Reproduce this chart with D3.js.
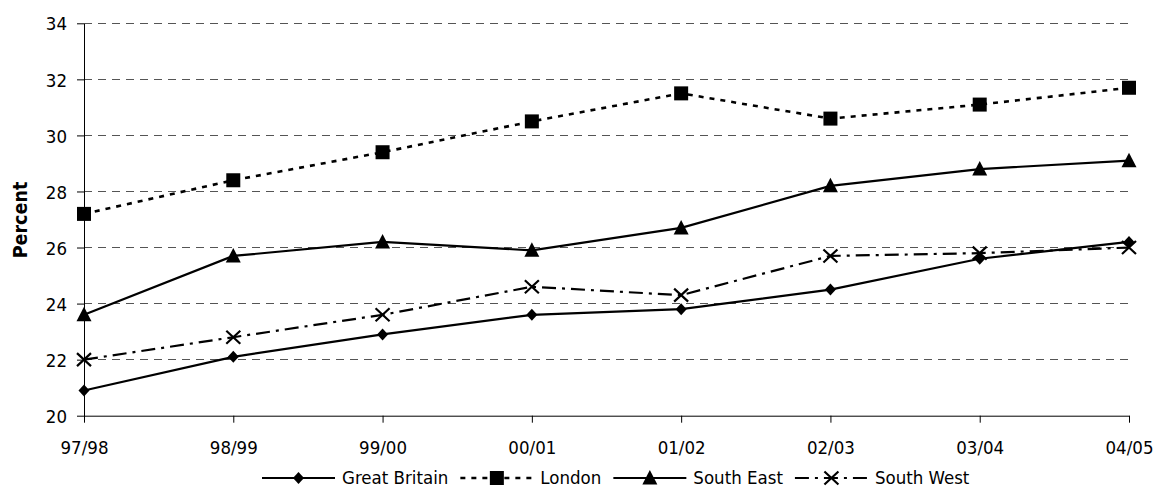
<!DOCTYPE html>
<html>
<head>
<meta charset="utf-8">
<script src="https://cdn.jsdelivr.net/npm/d3@7"></script>
<style>
body{margin:0;background:#fff;}
svg text{font-family:"DejaVu Sans Condensed","DejaVu Sans",sans-serif;fill:#000;}
</style>
</head>
<body>
<script>
let years=["97/98","98/99","99/00","00/01","01/02","02/03","03/04","04/05"];
let yTicks=[20,22,24,26,28,30,32,34];
let gb=[20.9,22.1,22.9,23.6,23.8,24.5,25.6,26.2];
let london=[27.2,28.4,29.4,30.5,31.5,30.6,31.1,31.7];
let southEast=[23.6,25.7,26.2,25.9,26.7,28.2,28.8,29.1];
let southWest=[22.0,22.8,23.6,24.6,24.3,25.7,25.8,26.0];
let names=["Great Britain","London","South East","South West"];

let W=1156,H=494;
let svg=d3.select("body").append("svg").attr("width",W).attr("height",H);

let x=d3.scalePoint().domain(years).range([84,1129]);
let y=d3.scaleLinear().domain([20,34]).range([415.7,23.3]);

// gridlines
svg.append("g").selectAll("line").data(yTicks.slice(1)).enter().append("line")
  .attr("x1",84).attr("x2",1129).attr("y1",d=>y(d)).attr("y2",d=>y(d))
  .attr("stroke","#555").attr("stroke-width",1).attr("stroke-dasharray","8,6")
  .attr("shape-rendering","crispEdges");

// axes
let yAx=svg.append("g").attr("transform","translate(84,0)")
  .call(d3.axisLeft(y).tickValues(yTicks).tickSize(7).tickPadding(10).tickSizeOuter(0));
let xAx=svg.append("g").attr("transform","translate(0,415.7)")
  .call(d3.axisBottom(x).tickSize(7).tickPadding(18).tickSizeOuter(0));
[yAx,xAx].forEach(a=>{
  a.select(".domain").attr("stroke","#000");
  a.selectAll("line").attr("stroke","#000");
  a.selectAll("text").style("font-size","18.5px").style("font-family","'DejaVu Sans Condensed'");
});
yAx.selectAll("text").attr("dy","0.36em");

svg.append("text").text("Percent").attr("transform","translate(27,220) rotate(-90)")
  .style("text-anchor","middle").style("font-size","19.5px").style("font-weight","bold");

// marker shapes
function marker(g,type,cx,cy){
  if(type==="diamond"){
    g.append("path").attr("d",`M${cx},${cy-6}L${cx+5.5},${cy}L${cx},${cy+6}L${cx-5.5},${cy}Z`).attr("fill","#000");
  }else if(type==="square"){
    g.append("rect").attr("x",cx-7).attr("y",cy-7).attr("width",14).attr("height",14).attr("fill","#000");
  }else if(type==="triangle"){
    g.append("path").attr("d",`M${cx},${cy-8}L${cx+7.5},${cy+6.5}L${cx-7.5},${cy+6.5}Z`).attr("fill","#000");
  }else{
    g.append("path").attr("d",`M${cx-7},${cy-6.5}L${cx+7},${cy+6.5}M${cx-7},${cy+6.5}L${cx+7},${cy-6.5}`)
      .attr("stroke","#000").attr("stroke-width",2.2).attr("fill","none");
  }
}

let series=[
  {vals:gb,dash:null,w:2.2,mk:"diamond"},
  {vals:london,dash:"5,6",w:2.6,mk:"square"},
  {vals:southEast,dash:null,w:2.2,mk:"triangle"},
  {vals:southWest,dash:"14,6,3,6",w:2.2,mk:"cross"}
];

let line=d3.line().x((d,i)=>x(years[i])).y(d=>y(d));
series.forEach(s=>{
  let g=svg.append("g");
  g.append("path").datum(s.vals).attr("d",line).attr("fill","none")
    .attr("stroke","#000").attr("stroke-width",s.w).attr("stroke-dasharray",s.dash);
  s.vals.forEach((v,i)=>marker(g,s.mk,x(years[i]),y(v)));
});

// legend
let lx=262,ly=478;
series.forEach((s,i)=>{
  let g=svg.append("g");
  g.append("line").attr("x1",lx).attr("x2",lx+73).attr("y1",ly).attr("y2",ly)
    .attr("stroke","#000").attr("stroke-width",s.w).attr("stroke-dasharray",s.dash);
  marker(g,s.mk,lx+36.5,ly);
  let t=g.append("text").text(names[i]).attr("x",lx+80).attr("y",ly).attr("dy","0.35em")
    .style("font-size","18.5px");
  lx=lx+80+t.node().getComputedTextLength()+12;
});
</script>
</body>
</html>
